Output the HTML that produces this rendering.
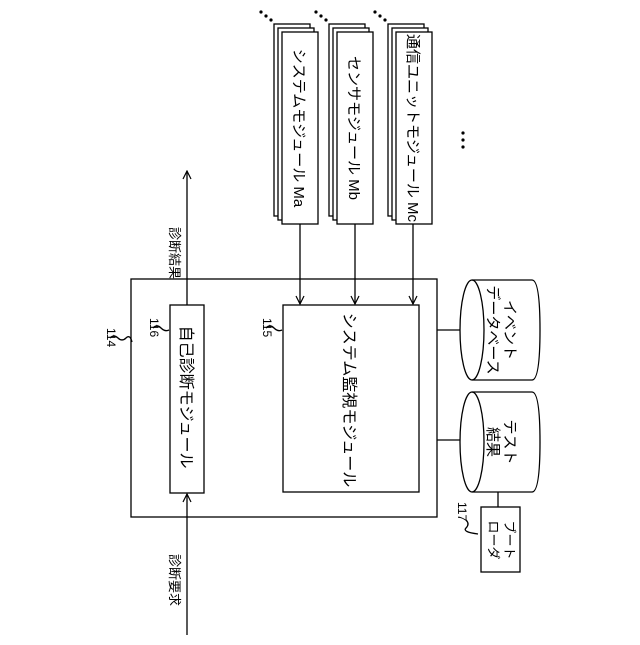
<!DOCTYPE html>
<html><head><meta charset="utf-8"><style>body{margin:0;background:#fff}</style></head><body>
<svg width="640" height="640" viewBox="0 0 640 640" xmlns="http://www.w3.org/2000/svg" font-family="'Liberation Sans','Noto Sans CJK JP',sans-serif" fill="none" stroke="#000" stroke-width="1.3">
<defs><marker id="a" markerWidth="10" markerHeight="10" refX="9" refY="5" orient="auto" markerUnits="userSpaceOnUse"><path d="M1,1 L9,5 L1,9" stroke="#000" fill="none" stroke-width="1.2"/></marker></defs>
<g fill="#fff">
<rect x="274" y="24" width="36" height="192"/><rect x="278" y="28" width="36" height="192"/><rect x="282" y="32" width="36" height="192"/>
<rect x="329" y="24" width="36" height="192"/><rect x="333" y="28" width="36" height="192"/><rect x="337" y="32" width="36" height="192"/>
<rect x="388" y="24" width="36" height="192"/><rect x="392" y="28" width="36" height="192"/><rect x="396" y="32" width="36" height="192"/>
</g>
<g fill="#000" stroke="none">
<circle cx="261" cy="12" r="1.6"/><circle cx="266" cy="16" r="1.6"/><circle cx="271" cy="20" r="1.6"/>
<circle cx="316" cy="12" r="1.6"/><circle cx="321" cy="16" r="1.6"/><circle cx="326" cy="20" r="1.6"/>
<circle cx="375" cy="12" r="1.6"/><circle cx="380" cy="16" r="1.6"/><circle cx="385" cy="20" r="1.6"/>
<circle cx="463" cy="133" r="1.6"/><circle cx="463" cy="140" r="1.6"/><circle cx="463" cy="147" r="1.6"/>
</g>
<g fill="#000" stroke="none" font-size="15">
<text transform="translate(294,128) rotate(90)" text-anchor="middle">システムモジュール Ma</text>
<text transform="translate(349,128) rotate(90)" text-anchor="middle">センサモジュール Mb</text>
<text transform="translate(408,128) rotate(90)" text-anchor="middle">通信ユニットモジュール Mc</text>
<text transform="translate(181,397) rotate(90)" text-anchor="middle" font-size="16">自己診断モジュール</text>
<text transform="translate(344,400) rotate(90)" text-anchor="middle" font-size="16">システム監視モジュール</text>
<text transform="translate(170,253) rotate(90)" text-anchor="middle" font-size="13">診断結果</text>
<text transform="translate(170,580) rotate(90)" text-anchor="middle" font-size="13">診断要求</text>
<text transform="translate(505,330) rotate(90)" text-anchor="middle">イベント</text>
<text transform="translate(488,330) rotate(90)" text-anchor="middle">データベース</text>
<text transform="translate(505,442) rotate(90)" text-anchor="middle">テスト</text>
<text transform="translate(488,442) rotate(90)" text-anchor="middle">結果</text>
<text transform="translate(505,540) rotate(90)" text-anchor="middle" font-size="13">ブート</text>
<text transform="translate(489,540) rotate(90)" text-anchor="middle" font-size="13">ローダ</text>
<text transform="translate(107,328) rotate(90)" font-size="12">114</text>
<text transform="translate(150,318) rotate(90)" font-size="12">116</text>
<text transform="translate(263,318) rotate(90)" font-size="12">115</text>
<text transform="translate(458,502) rotate(90)" font-size="12">117</text>
</g>
<rect x="131" y="279" width="306" height="238"/>
<rect x="170" y="305" width="34" height="188"/>
<rect x="283" y="305" width="136" height="187"/>
<line x1="300" y1="224" x2="300" y2="304" marker-end="url(#a)"/>
<line x1="355" y1="224" x2="355" y2="304" marker-end="url(#a)"/>
<line x1="413" y1="224" x2="413" y2="304" marker-end="url(#a)"/>
<line x1="187" y1="305" x2="187" y2="171" marker-end="url(#a)"/>
<line x1="187" y1="635" x2="187" y2="494" marker-end="url(#a)"/>
<path d="M110,338 q4,-4 8,0 q4,4 8,0 q4,-4 6,4"/>
<path d="M153,328 q4,-4 8,0 q4,4 8,2"/>
<path d="M266,328 q4,-4 8,0 q4,4 8,2"/>
<path d="M466,520 q4,4 0,8 q-4,4 12,6"/>
<line x1="437" y1="330" x2="460" y2="330"/>
<line x1="437" y1="440" x2="460" y2="440"/>
<line x1="498" y1="492" x2="498" y2="507"/>
<path d="M472,280 L532,280 Q540,280 540,330 Q540,380 532,380 L472,380"/>
<ellipse cx="472" cy="330" rx="12" ry="50"/>
<path d="M472,392 L532,392 Q540,392 540,442 Q540,492 532,492 L472,492"/>
<ellipse cx="472" cy="442" rx="12" ry="50"/>
<rect x="481" y="507" width="39" height="65"/>
</svg>
</body></html>
